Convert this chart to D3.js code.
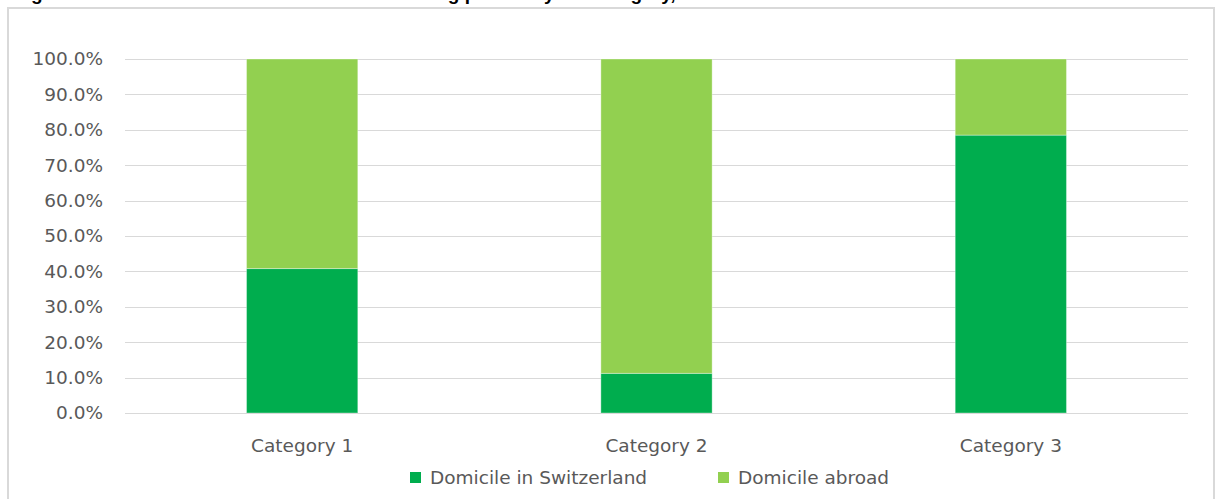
<!DOCTYPE html>
<html><head><meta charset="utf-8">
<script src="https://cdn.jsdelivr.net/npm/d3@7"></script>
<style>
html,body{margin:0;padding:0;background:#fff;}
svg{display:block;}
</style></head>
<body>
<svg id="chart" width="1216" height="499"></svg>
<script>
const categories = ["Category 1", "Category 2", "Category 3"];
const seriesNames = ["Domicile in Switzerland", "Domicile abroad"];
const domicileSwitzerland = [40.8, 11.2, 78.5];
const domicileAbroad = [59.2, 88.8, 21.5];
const yTicks = [0, 10, 20, 30, 40, 50, 60, 70, 80, 90, 100];
const colors = ["#00AD4E", "#92D050"];
const titleText = "Figure 11: Location of the domicile of contracting parties by tax category, 2019";

const svg = d3.select("#chart");
const font = "'DejaVu Sans', 'Open Sans', sans-serif";
const textColor = "#595959";
const fs = 18.5;

// title (cut off at top, as in reference)
svg.append("text").attr("x", 14).attr("y", 0)
  .attr("font-family", "'Liberation Sans', Arial, sans-serif")
  .attr("font-weight", "bold").attr("font-size", 19).attr("fill", "#000")
  .text(titleText);

// chart area border
svg.append("rect").attr("x", 8).attr("y", 8).attr("width", 1206).attr("height", 520)
  .attr("fill", "#fff").attr("stroke", "#d9d9d9").attr("stroke-width", 2);

const plot = {left: 125, right: 1188, top: 59, bottom: 413};
const x = d3.scaleBand().domain(categories).range([plot.left, plot.right])
  .paddingInner(0.686).paddingOuter(0.343);
const y = d3.scaleLinear().domain([0, 100]).range([plot.bottom, plot.top]);

// gridlines
svg.append("g").selectAll("line").data(yTicks).join("line")
  .attr("x1", plot.left).attr("x2", plot.right)
  .attr("y1", d => Math.round(y(d)) + 0.5).attr("y2", d => Math.round(y(d)) + 0.5)
  .attr("stroke", "#d9d9d9").attr("stroke-width", 1);

// y axis labels via d3 axis
const yAxis = d3.axisLeft(y).tickValues(yTicks).tickSize(0).tickPadding(0)
  .tickFormat(d => d.toFixed(1) + "%");
const gy = svg.append("g").attr("transform", `translate(${plot.left - 22},0)`).call(yAxis);
gy.select(".domain").remove();
gy.selectAll("text").attr("font-family", font).attr("font-size", fs).attr("fill", textColor);

// stacked bars
const rows = categories.map((c, i) => ({cat: c, s0: domicileSwitzerland[i], s1: domicileAbroad[i]}));
const stack = d3.stack().keys(["s0", "s1"])(rows);
svg.append("g").selectAll("g").data(stack).join("g")
  .attr("fill", (d, i) => colors[i])
  .selectAll("rect").data(d => d).join("rect")
  .attr("x", d => x(d.data.cat))
  .attr("width", x.bandwidth())
  .attr("y", d => y(d[1]))
  .attr("height", d => y(d[0]) - y(d[1]))
  .attr("stroke", "rgba(255,255,255,0.35)").attr("stroke-width", 1);

// x axis baseline
svg.append("line").attr("x1", plot.left).attr("x2", plot.right)
  .attr("y1", plot.bottom + 0.5).attr("y2", plot.bottom + 0.5)
  .attr("stroke", "#d9d9d9").attr("stroke-width", 1);

// x axis labels
const xAxis = d3.axisBottom(x).tickSize(0).tickPadding(0);
const gx = svg.append("g").attr("transform", `translate(0,${plot.bottom + 39})`).call(xAxis);
gx.select(".domain").remove();
gx.selectAll("text").attr("font-family", font).attr("font-size", fs).attr("fill", textColor).attr("dy", 0);

// legend
const legendItems = [{name: seriesNames[0], x: 410}, {name: seriesNames[1], x: 718}];
const lg = svg.append("g");
legendItems.forEach((it, i) => {
  lg.append("rect").attr("x", it.x).attr("y", 472).attr("width", 11).attr("height", 11).attr("fill", colors[i]);
  lg.append("text").attr("x", it.x + 20).attr("y", 484)
    .attr("font-family", font).attr("font-size", fs).attr("fill", textColor).text(it.name);
});
</script>
</body></html>
